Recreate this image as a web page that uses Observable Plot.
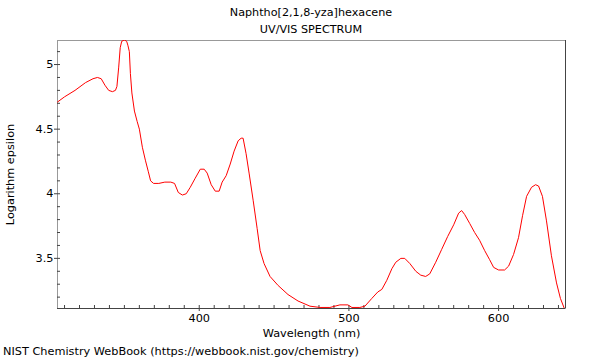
<!DOCTYPE html>
<html><head><meta charset="utf-8">
<script src="https://cdn.jsdelivr.net/npm/d3@7"></script>
<script src="https://cdn.jsdelivr.net/npm/@observablehq/plot@0.6"></script>
<style>
body{margin:0;background:#fff;font-family:"DejaVu Sans",sans-serif;}
#wrap{position:relative;width:600px;height:360px;overflow:hidden;}
.t{position:absolute;left:57px;width:508px;text-align:center;font-size:11.2px;color:#000;line-height:14px;}
</style></head><body>
<div id="wrap">
<div id="chart" style="position:absolute;left:0;top:0"></div>
<div class="t" style="top:6px">Naphtho[2,1,8-yza]hexacene</div>
<div class="t" style="top:23px">UV/VIS SPECTRUM</div>
<div style="position:absolute;left:3px;top:345px;font-size:11.3px;line-height:14px;color:#000">NIST Chemistry WebBook (https://webbook.nist.gov/chemistry)</div>
</div>
<script>
const wavelength = [305.3,310,317,324,329,332,334.5,337,339.5,342,344,345,346.2,347.2,348.2,350,351.5,352.3,353.3,354,355,356.7,358.5,360,362,364,366,367.5,369.5,373,377,381,383.5,386,388.7,391.3,394,397.3,400.7,403.3,405.3,408,410.7,413.3,415.3,418,420.7,423.3,426,428,429.3,431.3,433.3,436,438.7,440.7,443.3,447.3,452.7,459.3,466,474,480.7,487.3,494,499.3,502,507.3,510.7,515.3,519.3,522,525.3,528.7,531.3,534.7,537.3,540.7,544.7,548,551.3,554,558,562,566,570,573.3,575.3,577.3,580.7,584,587.3,590.7,594,596.7,600,604,606.7,610,613.3,616,618.7,622,624.7,626.7,629.3,632,635.3,638.7,641.3,644];
const logEpsilon = [4.71,4.75,4.80,4.86,4.89,4.90,4.89,4.84,4.80,4.79,4.80,4.83,4.98,5.13,5.18,5.19,5.18,5.15,5.10,4.93,4.78,4.64,4.56,4.50,4.36,4.26,4.17,4.10,4.08,4.08,4.09,4.09,4.08,4.01,3.99,4.00,4.05,4.12,4.19,4.19,4.16,4.07,4.02,4.02,4.09,4.14,4.23,4.33,4.41,4.43,4.43,4.31,4.16,3.95,3.73,3.56,3.46,3.36,3.29,3.22,3.17,3.13,3.12,3.12,3.14,3.14,3.12,3.12,3.13,3.19,3.24,3.26,3.33,3.42,3.47,3.50,3.50,3.46,3.40,3.37,3.36,3.38,3.47,3.57,3.67,3.76,3.85,3.87,3.84,3.77,3.70,3.64,3.56,3.49,3.43,3.41,3.41,3.44,3.53,3.66,3.83,3.98,4.05,4.07,4.06,3.98,3.79,3.52,3.31,3.19,3.11];
const xMajorTicks = [400,500,600];
const xMinorTicks = d3.range(310,645,10);
const yMajorTicks = [3.5,4,4.5,5];
const yMinorTicks = d3.range(32,52).map(v=>v/10);
const xLabel = "Wavelength (nm)";
const yLabel = "Logarithm epsilon";

const data = wavelength.map((w,i)=>({w, e: logEpsilon[i]}));

const chart = Plot.plot({
  width:600, height:360,
  marginTop:40, marginBottom:52, marginLeft:57, marginRight:35,
  x:{domain:[305.3,644.7], label:null},
  y:{domain:[3.112,5.186], label:null},
  style:{fontFamily:"DejaVu Sans", fontSize:"11.3px", color:"#000", background:"white"},
  marks:[
    Plot.frame({stroke:"#999"}),
    Plot.axisX({ticks:xMinorTicks, tickSize:-3, tickFormat:()=>"", label:null, stroke:"#444"}),
    Plot.axisX({ticks:xMajorTicks, tickSize:3, tickPadding:2, label:null, stroke:"#444", fontSize:11.3, tickFormat:d=>String(d)}),
    Plot.axisY({ticks:yMinorTicks, tickSize:-3, tickFormat:()=>"", label:null, stroke:"#444"}),
    Plot.axisY({ticks:yMajorTicks, tickSize:3, tickPadding:1, label:null, stroke:"#444", fontSize:11.3, tickFormat:d=>String(d)}),
    Plot.line(data, {x:"w", y:"e", stroke:"#ff0000", strokeWidth:1, clip:true}),
    Plot.ruleY([3.112], {stroke:"#444"}),
    Plot.ruleX([644.7], {stroke:"#444"}),
    Plot.text([xLabel], {text:d=>d, frameAnchor:"bottom", dy:28, fontSize:11.3}),
    Plot.text([yLabel], {text:d=>d, frameAnchor:"left", textAnchor:"middle", rotate:-90, dx:-47, fontSize:11.3})
  ]
});
document.getElementById("chart").appendChild(chart);
</script>
</body></html>
